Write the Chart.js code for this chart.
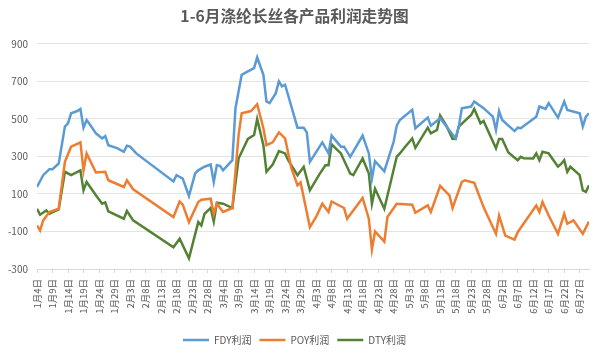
<!DOCTYPE html>
<html>
<head>
<meta charset="utf-8">
<script src="https://cdn.jsdelivr.net/npm/chart.js@4/dist/chart.umd.min.js"></script>
<style>
html,body{margin:0;padding:0;background:#fff;}
#wrap{width:600px;height:355px;}
</style>
</head>
<body>
<div id="wrap"><canvas id="c" width="600" height="355"></canvas></div>
<script>
const title = '1-6月涤纶长丝各产品利润走势图';
const seriesNames = ['FDY利润', 'POY利润', 'DTY利润'];
const tickLabels = ['1月4日','1月9日','1月14日','1月19日','1月24日','1月29日','2月3日','2月8日','2月13日','2月18日','2月23日','2月28日',
  '3月4日','3月9日','3月14日','3月19日','3月24日','3月29日','4月3日','4月8日','4月13日','4月18日','4月23日','4月28日',
  '5月3日','5月8日','5月13日','5月18日','5月23日','5月28日','6月2日','6月7日','6月12日','6月17日','6月22日','6月27日'];
// [days since 1月4日, value]
const fdy = [[0,137],[2,200],[4,232],[5,232],[7,262],[9,459],[10,476],[11,530],[13,542],[14,553],[15,453],[16,494],[17,471],[19,423],
  [21,396],[22,409],[23,360],[26,343],[28,325],[29,357],[30,352],[32,316],[44,167],[45,200],[47,182],[49,89],[51,209],[52,226],
  [54,245],[56,257],[57,164],[58,253],[59,250],[60,226],[63,280],[64,557],[66,735],[68,753],[70,771],[71,828],[73,735],[74,593],
  [75,584],[77,637],[78,700],[79,673],[80,682],[84,453],[86,453],[87,428],[88,271],[92,375],[94,316],[95,411],[98,352],[99,352],
  [101,298],[105,411],[107,316],[108,182],[109,275],[112,221],[115,378],[116,464],[117,494],[121,548],[122,450],[126,507],[127,464],
  [130,503],[135,396],[136,459],[137,557],[140,566],[141,593],[144,557],[147,512],[148,441],[149,542],[150,494],[154,435],[155,453],
  [156,450],[161,512],[162,566],[164,553],[165,584],[168,507],[170,593],[171,548],[175,530],[176,459],[177,512],[178,530]];
const poy = [[0,-68],[1,-95],[2,-41],[4,4],[7,21],[9,271],[11,352],[14,375],[15,226],[16,316],[19,214],[22,218],[23,173],[28,137],
  [29,173],[31,125],[44,-23],[46,60],[47,43],[49,-50],[52,57],[53,69],[56,75],[57,-6],[58,48],[60,4],[63,25],[65,414],[66,530],
  [69,542],[71,578],[73,450],[74,360],[76,375],[78,428],[80,396],[82,239],[84,146],[85,161],[88,-77],[90,-23],[92,48],[94,4],
  [95,60],[99,25],[100,-32],[105,79],[107,-32],[108,-196],[109,-100],[112,-154],[113,-23],[116,48],[121,43],[122,0],[126,39],
  [127,4],[130,143],[133,93],[134,25],[137,164],[138,173],[141,159],[144,30],[148,-113],[149,-15],[151,-122],[154,-143],[155,-104],
  [161,39],[162,4],[163,57],[165,-15],[168,-113],[170,-6],[171,-59],[173,-41],[176,-113],[178,-47]];
const dty = [[0,21],[1,-11],[3,12],[4,-6],[7,18],[9,218],[11,200],[14,226],[15,119],[16,164],[19,93],[21,48],[22,55],[23,7],
  [28,-32],[29,9],[31,-41],[44,-184],[46,-139],[49,-243],[52,-50],[53,-68],[54,-6],[56,25],[57,-47],[58,53],[60,48],[63,25],
  [65,289],[68,393],[70,414],[71,500],[73,360],[74,218],[76,257],[78,328],[80,316],[81,280],[84,200],[86,245],[88,119],[91,203],
  [93,253],[94,253],[95,364],[98,316],[99,280],[101,209],[102,200],[105,289],[107,209],[108,48],[109,128],[112,21],[116,298],
  [117,316],[119,357],[121,396],[122,346],[126,453],[127,423],[129,441],[130,518],[132,464],[134,393],[135,395],[136,459],
  [140,521],[141,553],[143,477],[144,489],[148,343],[149,393],[150,393],[152,321],[155,280],[156,298],[157,290],[160,289],
  [161,316],[162,280],[163,325],[165,316],[168,245],[169,260],[170,280],[171,218],[172,245],[175,200],[176,119],[177,111],[178,146]];

const colors = ['#5B9BD5', '#ED7D31', '#548235'];
const toPts = arr => arr.map(p => ({x: p[0], y: p[1]}));
const FONT = '"Noto Sans CJK SC", "Noto Sans", sans-serif';

new Chart(document.getElementById('c'), {
  type: 'line',
  data: {
    datasets: [fdy, poy, dty].map((s, i) => ({
      label: seriesNames[i],
      data: toPts(s),
      borderColor: colors[i],
      backgroundColor: colors[i],
      borderWidth: 2.5,
      pointRadius: 0,
      tension: 0,
      fill: false
    }))
  },
  options: {
    responsive: false,
    animation: false,
    layout: {padding: {left: 0, right: 11, top: 0, bottom: 0}},
    plugins: {
      title: {
        display: true, text: title, color: '#595959',
        font: {family: FONT, size: 15.7, weight: 'bold'},
        padding: {top: 7, bottom: 18}
      },
      legend: {
        position: 'bottom',
        labels: {
          color: '#595959', font: {family: FONT, size: 10},
          usePointStyle: true, pointStyle: 'line', pointStyleWidth: 26,
          padding: 8, boxHeight: 10
        }
      },
      tooltip: {enabled: false}
    },
    scales: {
      x: {
        type: 'linear', min: 0, max: 178,
        afterBuildTicks: s => { s.ticks = tickLabels.map((_, i) => ({value: i * 5})); },
        afterFit: s => { s.height = 58; },
        ticks: {
          autoSkip: false, maxRotation: 90, minRotation: 90,
          color: '#595959', font: {family: FONT, size: 9.5}, padding: 6,
          callback: v => tickLabels[Math.round(v / 5)]
        },
        grid: {display: true, drawOnChartArea: false, drawTicks: true, tickLength: 4, color: '#d9d9d9'},
        border: {color: '#d9d9d9'}
      },
      y: {
        min: -300, max: 900,
        afterFit: s => { s.width = 37; },
        ticks: {stepSize: 200, color: '#595959', font: {family: FONT, size: 10}, padding: 9},
        grid: {color: '#e3e3e3', drawTicks: false},
        border: {display: false}
      }
    }
  }
});
</script>
</body>
</html>
